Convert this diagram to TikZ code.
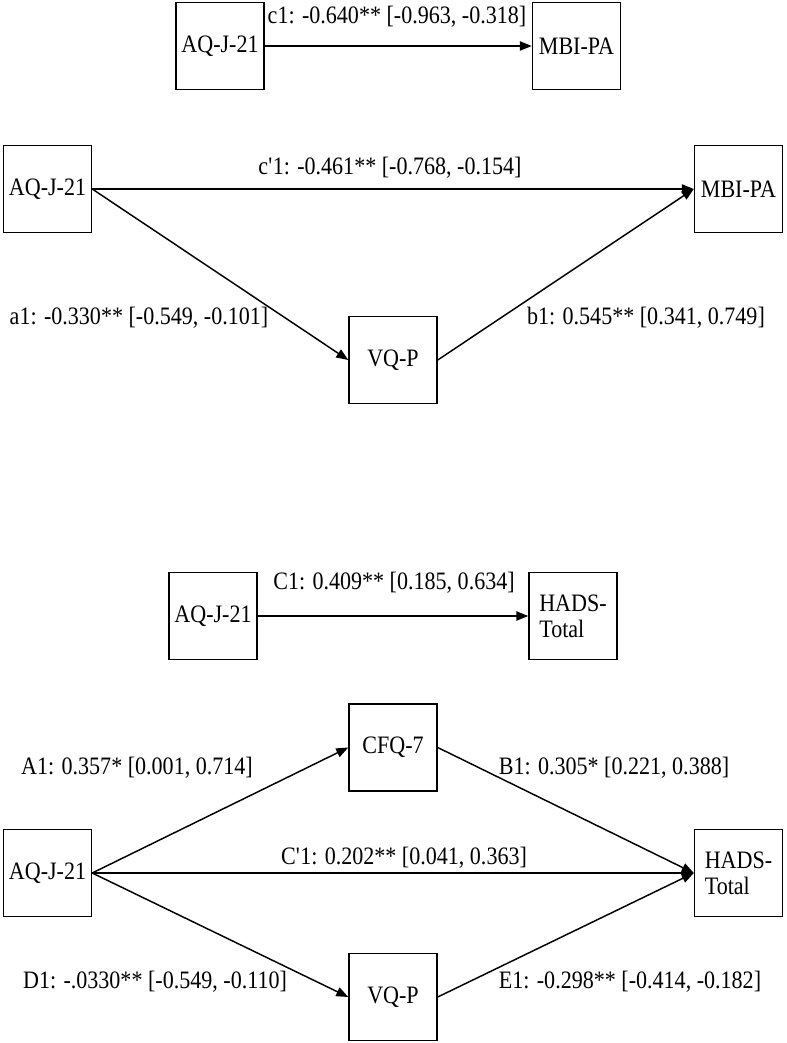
\documentclass[tikz,border=0pt]{standalone}
\usepackage{fontspec}
\setmainfont[FakeStretch=0.88]{Liberation Serif}
\usetikzlibrary{arrows.meta,positioning}

\begin{document}
\begin{tikzpicture}[x=0.75pt,y=-0.75pt,line width=1.1pt]
	
	% styles
	\tikzset{
		varbox/.style={draw=black, minimum width=66pt, minimum height=65pt, inner sep=1pt, align=center, font=\fontsize{18.8}{19.5}\selectfont},
		effect/.style={font=\fontsize{18.8}{19.5}\selectfont, inner sep=0pt},
		path/.style={-{Triangle[length=9pt,width=7pt]}}
	}
	
	\useasboundingbox (0,0) rectangle (786,1043);
	
	% total effect, MBI-PA
	\node[varbox] (aqA) at (220,46) {AQ-J-21};
	\node[varbox] (mbiA) at (576.5,46) {MBI-PA};
	\draw[path] (aqA) -- (mbiA);
	\node[effect] (cA) at (397,17) {c1: -0.640** [-0.963, -0.318]};
	
	% mediation via VQ-P
	\node[varbox] (aqB) at (47.5,189) {AQ-J-21};
	\node[varbox] (mbiB) at (738.5,189) {MBI-PA};
	\node[varbox] (vqpB) at (393,360) {VQ-P};
	\draw[path] (aqB) -- (mbiB);
	\draw[path] (aqB.east) -- (vqpB.west);
	\draw[path] (vqpB.east) -- (mbiB.west);
	\node[effect] (cpB) at (390,168) {c\textquotesingle1: -0.461** [-0.768, -0.154]};
	\node[effect] (aB) at (139,318) {a1: -0.330** [-0.549, -0.101]};
	\node[effect] (bB) at (646,318) {b1: 0.545** [0.341, 0.749]};
	
	% total effect, HADS-Total
	\node[varbox] (aqC) at (213,616) {AQ-J-21};
	\node[varbox, align=left] (hadsC) at (573,616) {HADS-\\Total};
	\draw[path] (aqC) -- (hadsC);
	\node[effect] (cC) at (394,583) {C1: 0.409** [0.185, 0.634]};
	
	% parallel mediation via CFQ-7 and VQ-P
	\node[varbox] (aqD) at (47.5,873) {AQ-J-21};
	\node[varbox, align=left] (hadsD) at (738.5,873) {HADS-\\Total};
	\node[varbox] (cfqD) at (393,747.5) {CFQ-7};
	\node[varbox] (vqpD) at (393,997) {VQ-P};
	\draw[path] (aqD) -- (hadsD);
	\draw[path] (aqD.east) -- (cfqD.west);
	\draw[path] (cfqD.east) -- (hadsD.west);
	\draw[path] (aqD.east) -- (vqpD.west);
	\draw[path] (vqpD.east) -- (hadsD.west);
	\node[effect] (AD) at (137,768) {A1: 0.357* [0.001, 0.714]};
	\node[effect] (BD) at (614,768) {B1: 0.305* [0.221, 0.388]};
	\node[effect] (CpD) at (404,858) {C\textquotesingle1: 0.202** [0.041, 0.363]};
	\node[effect] (DD) at (155,982) {D1: -.0330** [-0.549, -0.110]};
	\node[effect] (ED) at (630,982) {E1: -0.298** [-0.414, -0.182]};
	
\end{tikzpicture}
\end{document}
